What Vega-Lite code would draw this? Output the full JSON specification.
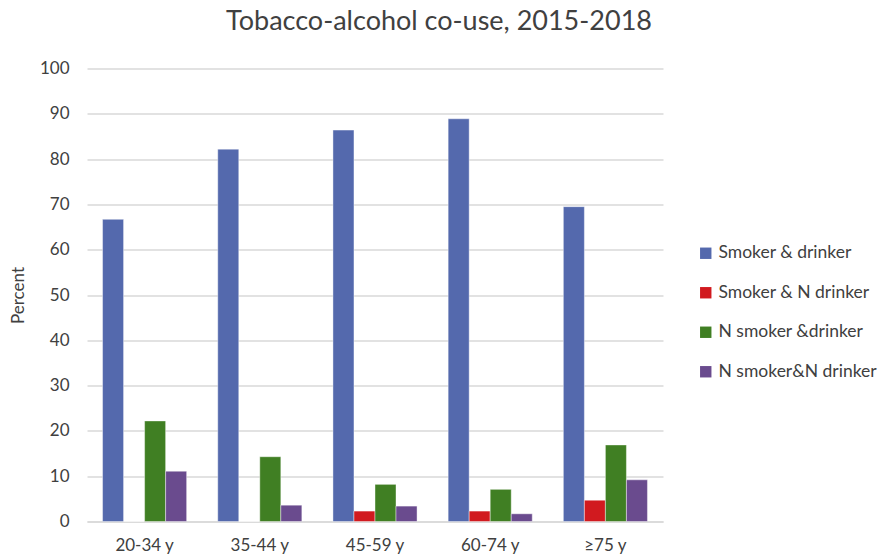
{
  "$schema": "https://vega.github.io/schema/vega-lite/v6.json",
  "autosize": "none",
  "width": 576,
  "height": 453,
  "padding": {"left": 87, "top": 68.5, "right": 216, "bottom": 34.5},
  "background": "#ffffff",
  "title": {
    "text": "Tobacco-alcohol co-use, 2015-2018",
    "font": "Lato",
    "fontSize": 27,
    "fontWeight": "normal",
    "color": "#404040",
    "anchor": "middle",
    "dx": 64,
    "offset": 24
  },
  "data": {
    "values": [
      {"age": "20-34 y", "group": "Smoker & drinker", "pct": 66.7},
      {"age": "20-34 y", "group": "Smoker & N drinker", "pct": 0},
      {"age": "20-34 y", "group": "N smoker &drinker", "pct": 22.2},
      {"age": "20-34 y", "group": "N smoker&N drinker", "pct": 11.1},
      {"age": "35-44 y", "group": "Smoker & drinker", "pct": 82.2},
      {"age": "35-44 y", "group": "Smoker & N drinker", "pct": 0},
      {"age": "35-44 y", "group": "N smoker &drinker", "pct": 14.3},
      {"age": "35-44 y", "group": "N smoker&N drinker", "pct": 3.6},
      {"age": "45-59 y", "group": "Smoker & drinker", "pct": 86.4},
      {"age": "45-59 y", "group": "Smoker & N drinker", "pct": 2.3},
      {"age": "45-59 y", "group": "N smoker &drinker", "pct": 8.2},
      {"age": "45-59 y", "group": "N smoker&N drinker", "pct": 3.4},
      {"age": "60-74 y", "group": "Smoker & drinker", "pct": 88.9},
      {"age": "60-74 y", "group": "Smoker & N drinker", "pct": 2.3},
      {"age": "60-74 y", "group": "N smoker &drinker", "pct": 7.1},
      {"age": "60-74 y", "group": "N smoker&N drinker", "pct": 1.7},
      {"age": "≥75 y", "group": "Smoker & drinker", "pct": 69.5},
      {"age": "≥75 y", "group": "Smoker & N drinker", "pct": 4.7},
      {"age": "≥75 y", "group": "N smoker &drinker", "pct": 16.9},
      {"age": "≥75 y", "group": "N smoker&N drinker", "pct": 9.2}
    ]
  },
  "mark": {"type": "bar", "stroke": "#ffffff", "strokeWidth": 0.6, "strokeOpacity": 0.7},
  "encoding": {
    "x": {
      "field": "age",
      "type": "nominal",
      "sort": null,
      "scale": {"paddingInner": 0.27, "paddingOuter": 0.135},
      "axis": {
        "title": null,
        "labelAngle": 0,
        "labelFont": "Lato",
        "labelFontSize": 17,
        "labelColor": "#404040",
        "labelPadding": 16,
        "labelOverlap": false,
        "ticks": false,
        "domainColor": "#d9d9d9",
        "domainWidth": 1.5,
        "grid": false
      }
    },
    "xOffset": {
      "field": "group",
      "type": "nominal",
      "sort": ["Smoker & drinker", "Smoker & N drinker", "N smoker &drinker", "N smoker&N drinker"],
      "scale": {"paddingInner": 0, "paddingOuter": 0}
    },
    "y": {
      "field": "pct",
      "type": "quantitative",
      "scale": {"domain": [0, 100], "nice": false},
      "axis": {
        "title": "Percent",
        "titleFont": "Lato",
        "titleFontSize": 17,
        "titleFontWeight": "normal",
        "titleColor": "#404040",
        "titlePadding": 12,
        "labelFont": "Lato",
        "labelFontSize": 17,
        "labelColor": "#404040",
        "labelPadding": 18,
        "labelOverlap": false,
        "labelFlush": false,
        "values": [0, 10, 20, 30, 40, 50, 60, 70, 80, 90, 100],
        "ticks": false,
        "domain": false,
        "grid": true,
        "gridColor": "#d9d9d9",
        "gridWidth": 1.5
      }
    },
    "color": {
      "field": "group",
      "type": "nominal",
      "sort": ["Smoker & drinker", "Smoker & N drinker", "N smoker &drinker", "N smoker&N drinker"],
      "scale": {
        "domain": ["Smoker & drinker", "Smoker & N drinker", "N smoker &drinker", "N smoker&N drinker"],
        "range": ["#5469ad", "#d11a1f", "#407f23", "#6a4b8e"]
      },
      "legend": {
        "title": null,
        "orient": "none",
        "legendX": 610,
        "legendY": 176,
        "symbolType": "square",
        "symbolSize": 130,
        "symbolStrokeWidth": 0,
        "labelFont": "Lato",
        "labelFontSize": 17.5,
        "labelColor": "#404040",
        "labelOffset": 4,
        "labelLimit": 300,
        "rowPadding": 20.5
      }
    }
  },
  "config": {"view": {"stroke": null}}
}
